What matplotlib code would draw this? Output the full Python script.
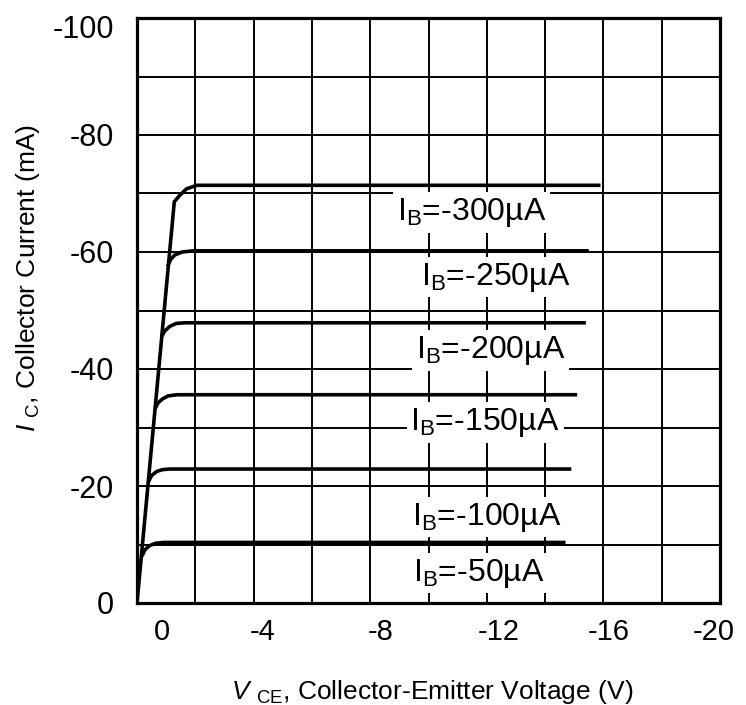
import matplotlib
matplotlib.use('Agg')
import matplotlib.pyplot as plt
import matplotlib.transforms as mtransforms
import numpy as np

plt.rcParams['font.family'] = ['Liberation Sans', 'DejaVu Sans']
plt.rcParams['mathtext.fontset'] = 'custom'
plt.rcParams['mathtext.rm'] = 'Liberation Sans'
plt.rcParams['mathtext.it'] = 'Liberation Sans:italic'
plt.rcParams['mathtext.bf'] = 'Liberation Sans:bold'

# ---------------- data ----------------
ib_values = [-300, -250, -200, -150, -100, -50]   # base current, uA

curve_vce = [
    [-1.28, -1.47, -1.70, -2.05, -15.9],
    [-1.05, -1.15, -1.30, -1.55, -1.93, -15.5],
    [-0.84, -0.95, -1.13, -1.35, -1.65, -15.4],
    [-0.62, -0.72, -0.88, -1.07, -1.37, -15.1],
    [-0.39, -0.50, -0.68, -0.88, -1.13, -14.9],
    [-0.17, -0.27, -0.43, -0.63, -0.89, -14.7],
]
curve_ic = [
    [-68.6, -69.7, -70.8, -71.4, -71.4],
    [-57.5, -58.7, -59.5, -60.0, -60.2, -60.2],
    [-45.5, -46.5, -47.3, -47.8, -47.9, -47.9],
    [-33.2, -34.2, -34.9, -35.4, -35.6, -35.6],
    [-20.7, -21.8, -22.5, -22.8, -22.9, -22.9],
    [-8.0, -9.1, -9.8, -10.2, -10.35, -10.35],
]

sat_vce = [0.0, -1.28]
sat_ic = [0.0, -68.6]

label_vce = [-11.49, -12.32, -12.14, -11.94, -12.0, -11.73]
label_ic = [-66.7, -55.7, -43.2, -30.8, -14.7, -5.1]

xtick_labels = ['0', '-4', '-8', '-12', '-16', '-20']
xtick_label_pos = [-0.86, -4.31, -8.36, -12.4, -16.2, -19.79]
ytick_values = [0, -20, -40, -60, -80, -100]
ytick_labels = ['0', '-20', '-40', '-60', '-80', '-100']

# ---------------- figure ----------------
W, H = 746, 705
fig = plt.figure(figsize=(W / 100, H / 100), dpi=100)
ax = fig.add_axes([137 / W, 1 - 603 / H, (720 - 137) / W, (603 - 18) / H])

ax.set_xlim(0, -20)
ax.set_ylim(0, -100)

# grid every 2 V and every 10 mA
ax.set_xticks(np.arange(0, -20.01, -2), minor=True)
ax.set_yticks(np.arange(-10, -100.01, -20), minor=True)
ax.set_xticks(xtick_label_pos)
ax.set_xticklabels(xtick_labels)
ax.set_yticks(ytick_values)
ax.set_yticklabels(ytick_labels)

ax.grid(which='minor', axis='both', color='black', linewidth=1.4, zorder=1)
ax.grid(which='major', axis='y', color='black', linewidth=1.4, zorder=1)
ax.grid(which='major', axis='x', visible=False)
ax.set_axisbelow(True)

ax.tick_params(axis='both', which='both', length=0)
ax.tick_params(axis='x', which='major', pad=10.5, labelsize=21)
ax.tick_params(axis='y', which='major', pad=16.5, labelsize=22)

# the top tick label sits a little lower in the original
top_lbl = ax.get_yticklabels()[-1]
top_lbl.set_transform(top_lbl.get_transform() +
                      mtransforms.ScaledTranslation(0, -0.08,
                                                    fig.dpi_scale_trans))

for s in ax.spines.values():
    s.set_linewidth(2.3)
    s.set_zorder(5)

# curves
ax.plot(sat_vce, sat_ic, color='black', linewidth=2.6, solid_capstyle='round',
        zorder=4)
for v, i in zip(curve_vce, curve_ic):
    ax.plot(v, i, color='black', linewidth=2.6, solid_capstyle='butt',
            solid_joinstyle='round', zorder=4)

for ib, lv, li in zip(ib_values, label_vce, label_ic):
    ax.text(lv, li, r'I$_{\mathrm{B}}$=%dµA' % ib, fontsize=23,
            ha='center', va='center', zorder=3,
            bbox=dict(boxstyle='square,pad=0.12', facecolor='white',
                      edgecolor='none'))

fig.text(432 / W, 1 - 692 / H,
         r'$\mathit{V}$ $_{\mathrm{CE}}$, Collector-Emitter Voltage (V)',
         fontsize=19, ha='center', va='center')
fig.text(28 / W, 1 - 278 / H,
         r'$\mathit{I}$ $_{\mathrm{C}}$, Collector Current (mA)',
         fontsize=19, ha='center', va='center', rotation=90)

fig.savefig('out.png', dpi=100, facecolor='white')
